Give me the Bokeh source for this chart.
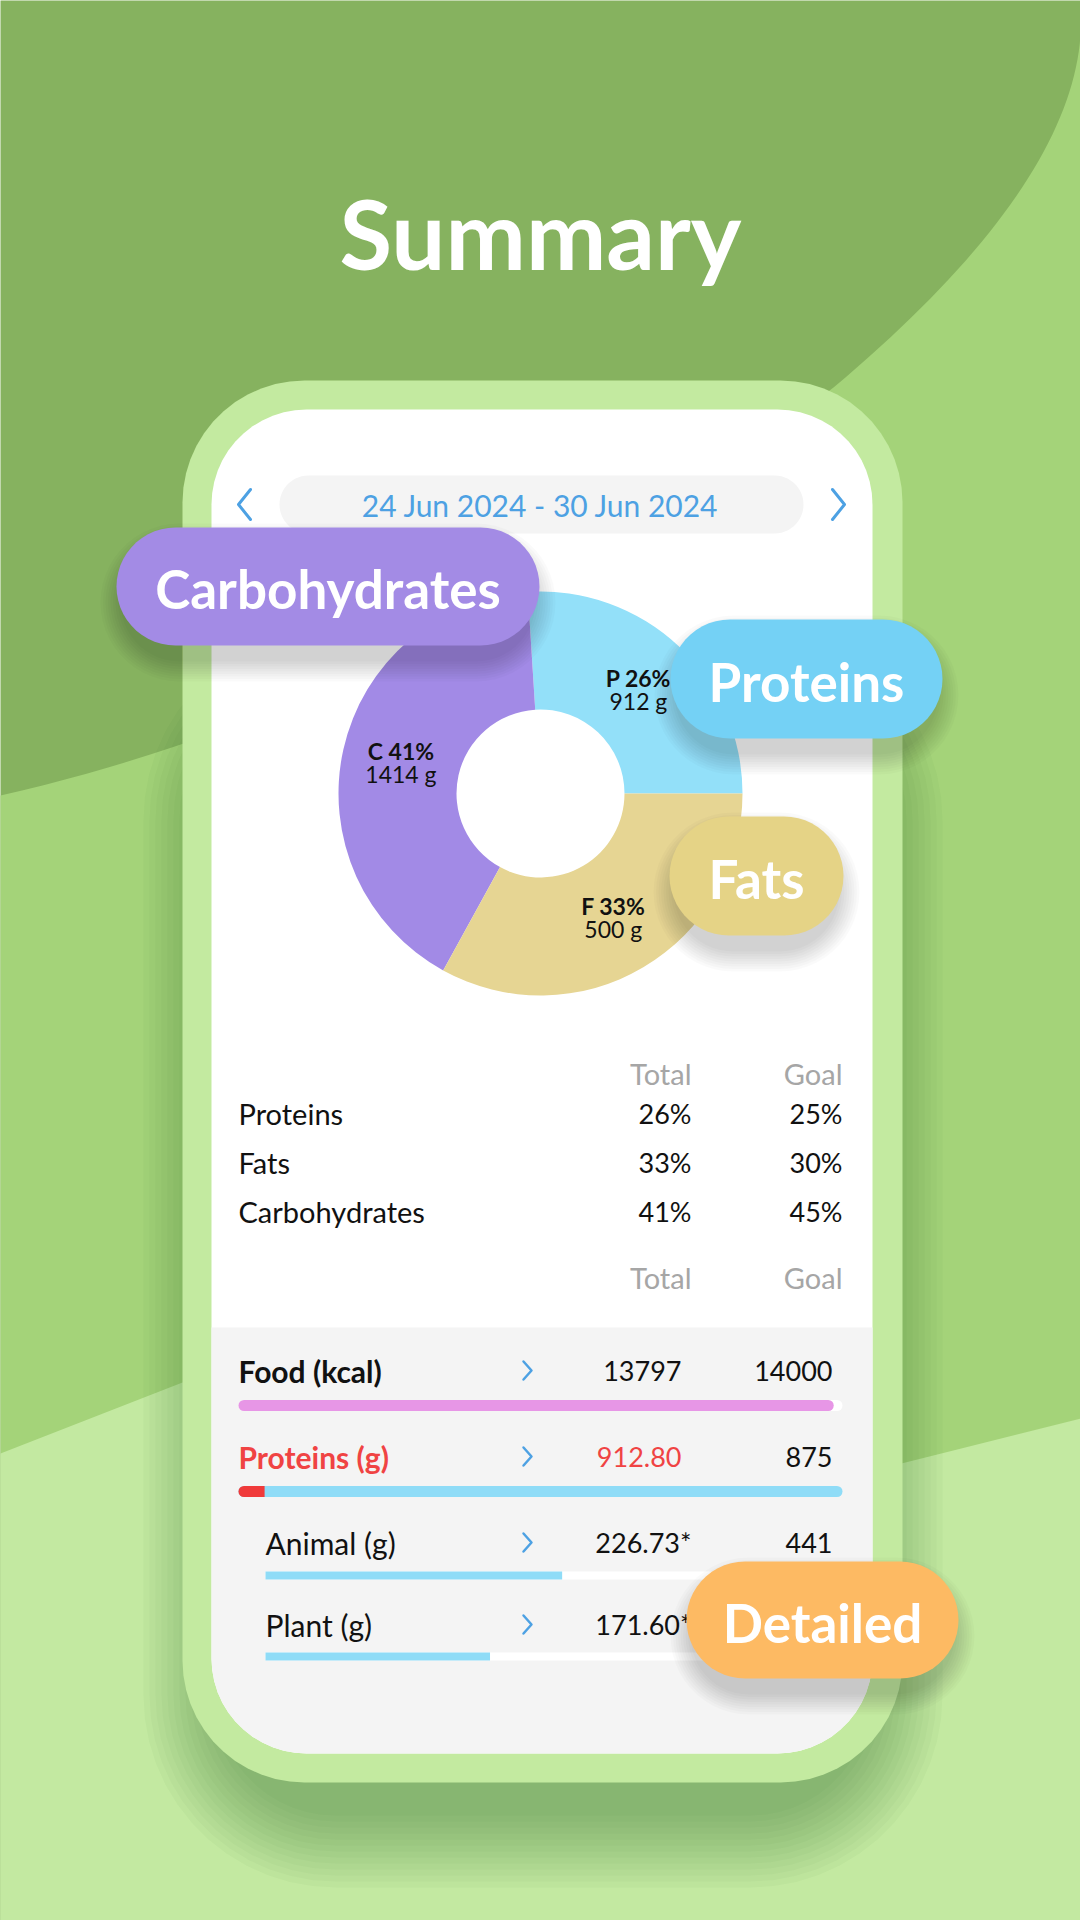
import numpy as np
from bokeh.plotting import figure
from bokeh.models import Range1d
from bokeh.core.properties import value
from bokeh.embed import file_html
from bokeh.resources import INLINE

# ---------------- data ----------------
title_text = "Summary"
date_text = "24 Jun 2024 - 30 Jun 2024"

# donut, in drawing order (anticlockwise from 3 o'clock)
macro_short = ["P", "C", "F"]
macro_pct = [26, 41, 33]
macro_grams = [912, 1414, 500]
macro_colors = ["#93E0F9", "#A28AE6", "#E6D593"]

# table of percentages
table_rows = ["Proteins", "Fats", "Carbohydrates"]
table_total = [26, 33, 41]
table_goal = [25, 30, 45]
table_header = ["Total", "Goal"]

# detail rows
detail_labels = ["Food (kcal)", "Proteins (g)", "Animal (g)", "Plant (g)"]
detail_total = [13797, 912.80, 226.73, 171.60]
detail_total_text = ["13797", "912.80", "226.73*", "171.60*"]
detail_goal = [14000, 875, 441, 441]

# callout pills
pill_labels = ["Carbohydrates", "Proteins", "Fats", "Detailed"]
pill_colors = ["#A38BE5", "#74D1F5", "#E5D386", "#FDBA63"]

# ---------------- figure ----------------
W, H = 1080, 1920
p = figure(width=W, height=H, x_range=Range1d(0, W), y_range=Range1d(H, 0),
           output_backend="svg", toolbar_location=None,
           x_axis_location=None, y_axis_location=None, min_border=0)
p.grid.visible = False
p.outline_line_color = None
p.background_fill_color = "#86B25F"
p.border_fill_color = "#86B25F"

FONT = "Lato"


def rrect(x0, y0, x1, y1, r, n=14):
    r = min(r, (x1 - x0) / 2, (y1 - y0) / 2)
    xs, ys = [], []
    for cx, cy, a0 in [(x1 - r, y0 + r, -90), (x1 - r, y1 - r, 0), (x0 + r, y1 - r, 90), (x0 + r, y0 + r, 180)]:
        a = np.radians(np.linspace(a0, a0 + 90, n))
        xs.extend(cx + r * np.cos(a))
        ys.extend(cy + r * np.sin(a))
    return xs, ys


def qbez(p0, c, p2, n=40):
    t = np.linspace(0, 1, n)
    x = (1 - t) ** 2 * p0[0] + 2 * t * (1 - t) * c[0] + t ** 2 * p2[0]
    y = (1 - t) ** 2 * p0[1] + 2 * t * (1 - t) * c[1] + t ** 2 * p2[1]
    return list(x), list(y)


# ---------------- background ----------------
bx1, by1 = qbez((1080, 35), (1069, 189), (833, 387))
bx2, by2 = qbez((833, 387), (420, 700), (0, 795))
mx = [1086, 1100] + bx1 + bx2[1:] + [-20, -20, 1100]
my = [-40, -40] + by1 + by2[1:] + [800, 1930, 1930]
p.patch(mx, my, fill_color="#A4D379", line_color=None)

lx = [-20, 0, 182, 901, 1080, 1100, 1100, -20]
ly = [1461, 1453, 1382, 1463, 1418, 1413, 1930, 1930]
p.patch(lx, ly, fill_color="#C3E9A1", line_color=None)

# phone shadow
for k in range(13):
    sx, sy = rrect(215 - 6 * k, 700 - 6 * k, 870 + 6 * k, 1815 + 6 * k, 120 + 6 * k)
    p.patch(sx, sy, fill_color="#2E5A20", fill_alpha=0.03, line_color=None)

# phone body
fx, fy = rrect(182, 380, 902, 1782, 122)
p.patch(fx, fy, fill_color="#C3EAA0", line_color=None)
sx, sy = rrect(211, 409, 872, 1753, 95)
p.patch(sx, sy, fill_color="#FFFFFF", line_color=None)
# grey lower area (rounded screen bottom)
gx, gy = rrect(211, 1200, 872, 1753, 95)
gy = [max(y, 1327) for y in gy]
p.patch(gx, gy, fill_color="#F4F4F4", line_color=None)

# ---------------- date selector ----------------
dx, dy = rrect(279, 475, 803, 533, 29)
p.patch(dx, dy, fill_color="#F4F4F4", line_color=None)
p.text(x=[540], y=[504], text=[date_text], text_align="center", text_baseline="middle",
       text_font=value(FONT), text_font_size="30px", text_color="#4DA1E3")
p.multi_line(xs=[[250, 238, 250], [832, 844, 832]], ys=[[489, 504, 519], [489, 504, 519]],
             line_color="#4DA1E3", line_width=3, line_cap="round", line_join="round")

# ---------------- donut ----------------
cx, cy = 540, 793
r_in, r_out = 84, 202
fr = np.array(macro_pct) / sum(macro_pct)
ends = np.cumsum(fr) * 2 * np.pi
starts = ends - fr * 2 * np.pi
p.annular_wedge(x=cx, y=cy, inner_radius=r_in, outer_radius=r_out,
                start_angle=list(starts), end_angle=list(ends),
                fill_color=macro_colors, line_color=None)
mids = (starts + ends) / 2
rm = 143
lab_x = list(cx + rm * np.cos(mids))
lab_y = list(cy - rm * np.sin(mids))
p.text(x=lab_x, y=[v - 11 for v in lab_y], text=[f"{s} {v}%" for s, v in zip(macro_short, macro_pct)],
       text_align="center", text_baseline="middle", text_font=value(FONT), text_font_style="bold",
       text_font_size="23px", text_color="#111111")
p.text(x=lab_x, y=[v + 12 for v in lab_y], text=[f"{g} g" for g in macro_grams],
       text_align="center", text_baseline="middle", text_font=value(FONT),
       text_font_size="23px", text_color="#111111")

# ---------------- table ----------------
col_r = [691, 842]
for hy in [1073, 1277]:
    p.text(x=col_r, y=[hy, hy], text=table_header, text_align="right", text_baseline="middle",
           text_font=value(FONT), text_font_size="29px", text_color="#A6A6A6")
row_y = [1113, 1162, 1211]
p.text(x=[238] * 3, y=row_y, text=table_rows, text_align="left", text_baseline="middle",
       text_font=value(FONT), text_font_size="29px", text_color="#111111")
p.text(x=[col_r[0]] * 3, y=row_y, text=[f"{v}%" for v in table_total], text_align="right",
       text_baseline="middle", text_font=value(FONT), text_font_size="27px", text_color="#111111")
p.text(x=[col_r[1]] * 3, y=row_y, text=[f"{v}%" for v in table_goal], text_align="right",
       text_baseline="middle", text_font=value(FONT), text_font_size="27px", text_color="#111111")

# ---------------- detail rows ----------------
d_y = [1370, 1456, 1542, 1624]
d_x = [238, 238, 265, 265]
over = [t > g for t, g in zip(detail_total, detail_goal)]
lab_col = ["#F04343" if o and i == 1 else "#111111" for i, o in enumerate(over)]
for i in range(4):
    bold = "bold" if i < 2 else "normal"
    p.text(x=[d_x[i]], y=[d_y[i]], text=[detail_labels[i]], text_align="left", text_baseline="middle",
           text_font=value(FONT), text_font_style=bold, text_font_size="30px", text_color=lab_col[i])
    vx = 691 if detail_total_text[i].endswith("*") else 681
    p.text(x=[vx], y=[d_y[i]], text=[detail_total_text[i]], text_align="right", text_baseline="middle",
           text_font=value(FONT), text_font_size="27px", text_color=lab_col[i])
    p.text(x=[832], y=[d_y[i]], text=[f"{detail_goal[i]}"], text_align="right", text_baseline="middle",
           text_font=value(FONT), text_font_size="27px", text_color="#111111")
    p.multi_line(xs=[[523, 531, 523]], ys=[[d_y[i] - 9, d_y[i], d_y[i] + 9]], line_color="#4DA1E3",
                 line_width=2.5, line_cap="round", line_join="round")

# bars
bar_y = [1405, 1491, 1575, 1656]
b0 = d_x
b1 = 842
th = 11
# food bar (rounded)
p.segment(x0=[b0[0] + th / 2], y0=[bar_y[0]], x1=[b1 - th / 2], y1=[bar_y[0]], line_color="#FFFFFF",
          line_width=th, line_cap="round")
fw = (b1 - b0[0]) * detail_total[0] / detail_goal[0]
p.segment(x0=[b0[0] + th / 2], y0=[bar_y[0]], x1=[b0[0] + fw - th / 2], y1=[bar_y[0]], line_color="#E796E6",
          line_width=th, line_cap="round")
# proteins bar: goal reached (full) plus overflow part in red
p.segment(x0=[b0[1] + th / 2], y0=[bar_y[1]], x1=[b1 - th / 2], y1=[bar_y[1]], line_color="#8FDCF7",
          line_width=th, line_cap="round")
ow = (b1 - b0[1]) * (detail_total[1] - detail_goal[1]) / detail_goal[1]
p.segment(x0=[b0[1] + th / 2], y0=[bar_y[1]], x1=[b0[1] + th / 2 + 1], y1=[bar_y[1]], line_color="#F03A3A",
          line_width=th, line_cap="round")
p.hbar(y=[bar_y[1]], left=[b0[1] + th / 2], right=[b0[1] + ow], height=th, fill_color="#F03A3A", line_color=None)
# animal / plant
for i in [2, 3]:
    p.hbar(y=[bar_y[i]], left=[b0[i]], right=[b1], height=8, fill_color="#FFFFFF", line_color=None)
    p.hbar(y=[bar_y[i]], left=[b0[i]], right=[b0[i] + (b1 - b0[i]) * detail_total[i] / detail_goal[i]],
           height=8, fill_color="#8FDCF7", line_color=None)

# ---------------- title ----------------
p.text(x=[540], y=[232], text=[title_text], text_align="center", text_baseline="middle",
       text_font=value(FONT), text_font_style="bold", text_font_size="96px", text_color="#FFFFFF")

# ---------------- callout pills ----------------
pill_box = [(116, 527, 539, 645), (670, 619, 942, 738), (669, 816, 843, 935), (686, 1561, 958, 1678)]
for (x0, y0, x1, y1), lab, col in zip(pill_box, pill_labels, pill_colors):
    h = y1 - y0
    for k in range(9):
        sx, sy = rrect(x0 - 2.5 * k + 4, y0 - 2.5 * k + 16, x1 + 2.5 * k - 4, y1 + 2.5 * k + 16, h)
        p.patch(sx, sy, fill_color="#000000", fill_alpha=0.02, line_color=None)
    px, py = rrect(x0, y0, x1, y1, h / 2)
    p.patch(px, py, fill_color=col, line_color=None)
    p.text(x=[(x0 + x1) / 2], y=[(y0 + y1) / 2 + 2], text=[lab], text_align="center", text_baseline="middle",
           text_font=value(FONT), text_font_style="bold", text_font_size="53px", text_color="#FFFFFF")

open("out.html", "w").write(file_html(p, INLINE))
